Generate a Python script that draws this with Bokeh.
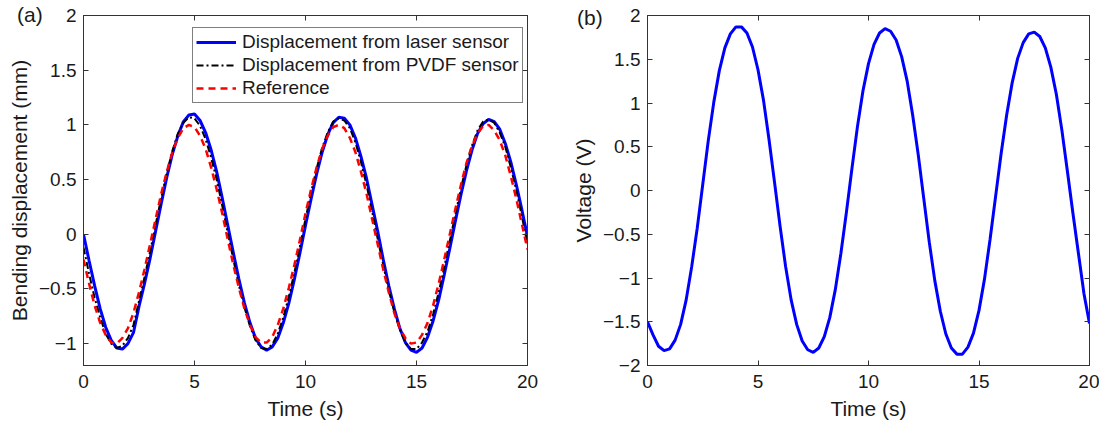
from bokeh.plotting import figure
from bokeh.layouts import row
from bokeh.models import (Range1d, LinearAxis, FixedTicker, CustomJSTickFormatter,
                          Legend, LegendItem, Div)
from bokeh.embed import file_html
from bokeh.resources import INLINE

FONT = "Liberation Sans"
AX = "#333333"

# ---------------- data ----------------
time_s = [0, 0.25, 0.5, 0.75, 1, 1.25, 1.5, 1.75, 2, 2.25, 2.5, 2.75, 3, 3.25, 3.5, 3.75,
          4, 4.25, 4.5, 4.75, 5, 5.25, 5.5, 5.75, 6, 6.25, 6.5, 6.75, 7, 7.25, 7.5, 7.75,
          8, 8.25, 8.5, 8.75, 9, 9.25, 9.5, 9.75, 10, 10.25, 10.5, 10.75, 11, 11.25, 11.5,
          11.75, 12, 12.25, 12.5, 12.75, 13, 13.25, 13.5, 13.75, 14, 14.25, 14.5, 14.75,
          15, 15.25, 15.5, 15.75, 16, 16.25, 16.5, 16.75, 17, 17.25, 17.5, 17.75, 18,
          18.25, 18.5, 18.75, 19, 19.25, 19.5, 19.75, 20]

laser = [0.00, -0.24, -0.47, -0.68, -0.85, -0.97, -1.04, -1.05, -1.00, -0.90,
         -0.66, -0.45, -0.22,
         0.03, 0.28, 0.52, 0.73, 0.90, 1.03, 1.09, 1.10, 1.04, 0.93, 0.77, 0.57, 0.33, 0.08,
         -0.17, -0.41, -0.63, -0.81, -0.95, -1.03, -1.06, -1.03, -0.95, -0.81, -0.63, -0.41, -0.17,
         0.08, 0.32, 0.55, 0.75, 0.91, 1.02, 1.07, 1.06, 1.00, 0.88, 0.71, 0.51, 0.27, 0.03,
         -0.23, -0.47, -0.68, -0.86, -0.99, -1.06, -1.08, -1.04, -0.94, -0.79, -0.60, -0.37, -0.13,
         0.12, 0.36, 0.58, 0.77, 0.92, 1.01, 1.05, 1.03, 0.96, 0.83, 0.66, 0.45, 0.22, -0.02]

pvdf = [-0.12, -0.36, -0.58, -0.76, -0.91, -1.00, -1.04, -1.02, -0.95, -0.83, -0.61, -0.39, -0.16,
        0.09, 0.33, 0.56, 0.76, 0.92, 1.02, 1.07, 1.06, 0.99, 0.87, 0.70, 0.50, 0.26, 0.01,
        -0.23, -0.47, -0.67, -0.84, -0.97, -1.04, -1.05, -1.01, -0.91, -0.76, -0.57, -0.35, -0.11,
        0.14, 0.38, 0.60, 0.79, 0.93, 1.03, 1.06, 1.04, 0.97, 0.84, 0.66, 0.45, 0.21,
        -0.04, -0.28, -0.51, -0.71, -0.87, -0.99, -1.05, -1.05, -0.99, -0.89, -0.73, -0.53, -0.30, -0.06,
        0.18, 0.42, 0.63, 0.81, 0.95, 1.03, 1.05, 1.02, 0.93, 0.80, 0.61, 0.40, 0.16, -0.09]

reference = [-0.23, -0.45, -0.65, -0.81, -0.92, -0.99, -1.00, -0.95, -0.86, -0.72, -0.53, -0.32, -0.09,
             0.14, 0.37, 0.57, 0.75, 0.88, 0.97, 1.00, 0.98, 0.90, 0.78, 0.61, 0.41, 0.19,
             -0.05, -0.28, -0.49, -0.68, -0.83, -0.94, -0.99, -0.99, -0.94, -0.83, -0.68, -0.49, -0.28, -0.05,
             0.19, 0.41, 0.61, 0.78, 0.90, 0.98, 1.00, 0.97, 0.88, 0.75, 0.57, 0.37, 0.14,
             -0.09, -0.32, -0.53, -0.72, -0.86, -0.95, -1.00, -0.99, -0.92, -0.81, -0.65, -0.45, -0.23,
             0.00, 0.23, 0.45, 0.65, 0.81, 0.92, 0.99, 1.00, 0.95, 0.86, 0.72, 0.53, 0.32, 0.09, -0.14]

voltage = [-1.50, -1.65, -1.78, -1.83, -1.81, -1.71, -1.53, -1.25, -0.87, -0.43,
           0.07, 0.57, 1.01, 1.37, 1.63, 1.79, 1.87, 1.87, 1.80, 1.64, 1.38, 1.03, 0.58, 0.09,
           -0.41, -0.87, -1.25, -1.53, -1.72, -1.82, -1.85, -1.80, -1.67, -1.45, -1.13, -0.72, -0.25,
           0.25, 0.73, 1.14, 1.45, 1.67, 1.80, 1.85, 1.82, 1.72, 1.53, 1.25, 0.86, 0.41,
           -0.09, -0.59, -1.03, -1.38, -1.64, -1.80, -1.87, -1.87, -1.79, -1.63, -1.37, -1.01, -0.56, -0.07,
           0.42, 0.86, 1.23, 1.51, 1.69, 1.79, 1.81, 1.76, 1.63, 1.41, 1.10, 0.69, 0.22, -0.26, -0.72, -1.18, -1.52]

x_ticks = [0, 5, 10, 15, 20]
y_ticks_a = [-1, -0.5, 0, 0.5, 1, 1.5, 2]
y_ticks_b = [-2, -1.5, -1, -0.5, 0, 0.5, 1, 1.5, 2]

legend_labels = ["Displacement from laser sensor",
                 "Displacement from PVDF sensor",
                 "Reference"]
panel_tags = ["(a)", "(b)"]


def fmt():
    return CustomJSTickFormatter(
        code="return tick < 0 ? '\\u2212' + String(-tick) : String(tick);")


def mirror_axis(ticks):
    return LinearAxis(ticker=FixedTicker(ticks=ticks), major_tick_in=5, major_tick_out=0,
                      formatter=CustomJSTickFormatter(code="return '';"),
                      major_label_standoff=0, minor_tick_line_color=None,
                      axis_line_color=AX, major_tick_line_color=AX)


def style(p, xt, yt, ylabel):
    p.grid.visible = False
    p.outline_line_color = AX
    p.outline_line_width = 1
    p.background_fill_color = "white"
    p.border_fill_color = "white"
    p.xaxis.ticker = FixedTicker(ticks=xt)
    p.yaxis.ticker = FixedTicker(ticks=yt)
    p.xaxis.formatter = fmt()
    p.yaxis.formatter = fmt()
    p.xaxis.axis_label = "Time (s)"
    p.yaxis.axis_label = ylabel
    for ax in (p.xaxis[0], p.yaxis[0]):
        ax.major_tick_in = 5
        ax.major_tick_out = 0
        ax.minor_tick_line_color = None
        ax.axis_line_color = AX
        ax.major_tick_line_color = AX
        ax.major_label_text_font = FONT
        ax.major_label_text_font_size = "19px"
        ax.major_label_text_color = "#1a1a1a"
        ax.axis_label_text_font = FONT
        ax.axis_label_text_font_size = "21px"
        ax.axis_label_text_font_style = "normal"
        ax.axis_label_text_color = "#1a1a1a"
    p.xaxis[0].major_label_standoff = 9
    p.xaxis[0].axis_label_standoff = 6
    p.yaxis[0].major_label_standoff = 7
    p.yaxis[0].axis_label_standoff = 5
    p.add_layout(mirror_axis(xt), "above")
    p.add_layout(mirror_axis(yt), "right")


def tag(text, left, top):
    return Div(text=text, width=32, height=26,
               styles={"position": "absolute", "left": f"{left}px", "top": f"{top}px",
                       "font-family": FONT, "font-size": "21px", "color": "#1a1a1a",
                       "line-height": "26px", "white-space": "nowrap", "z-index": "10"})


# ---------------- panel (a) ----------------
pa = figure(width=547, height=423, x_range=Range1d(0, 20), y_range=Range1d(-1.2, 2),
            output_backend="svg", toolbar_location=None,
            min_border_left=83, min_border_right=20, min_border_top=15, min_border_bottom=58)
style(pa, x_ticks, y_ticks_a, "Bending displacement (mm)")

r_laser = pa.line(time_s, laser, line_color="#0000FF", line_width=3)
r_pvdf = pa.line(time_s, pvdf, line_color="black", line_width=2, line_dash="7 3 2 3")
r_ref = pa.line(time_s, reference, line_color="#FF0000", line_width=2.5, line_dash="7 5")

legend = Legend(items=[LegendItem(label=legend_labels[0], renderers=[r_laser]),
                       LegendItem(label=legend_labels[1], renderers=[r_pvdf]),
                       LegendItem(label=legend_labels[2], renderers=[r_ref])],
                location=(109, 262), orientation="vertical",
                border_line_color="black", border_line_width=1,
                background_fill_color="white", background_fill_alpha=1.0,
                label_text_font=FONT, label_text_font_size="19px",
                label_text_color="#1a1a1a",
                glyph_width=40, glyph_height=20, label_height=20,
                label_standoff=6, padding=3, spacing=1, margin=0)
pa.add_layout(legend, "center")

# ---------------- panel (b) ----------------
pb = figure(width=552, height=423, x_range=Range1d(0, 20), y_range=Range1d(-2, 2),
            output_backend="svg", toolbar_location=None,
            min_border_left=100, min_border_right=10, min_border_top=15, min_border_bottom=58)
style(pb, x_ticks, y_ticks_b, "Voltage (V)")
pb.line(time_s, voltage, line_color="#0000FF", line_width=3)

layout = row(pa, pb, tag(panel_tags[0], 12, -3), tag(panel_tags[1], 572, 0))
open("out.html", "w").write(file_html(layout, INLINE))
